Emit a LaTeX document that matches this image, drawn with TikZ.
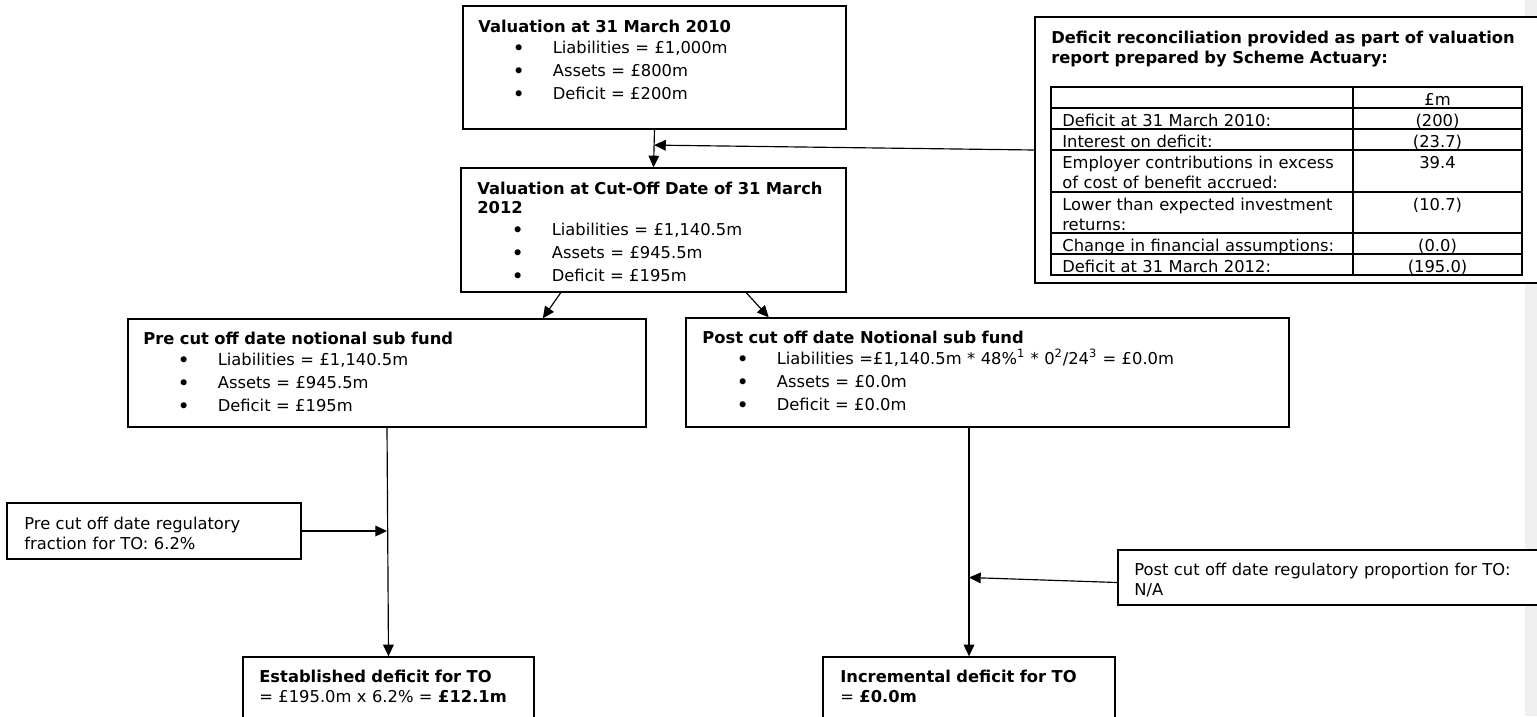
\documentclass[tikz,border=0pt]{standalone}
\usepackage{fontspec}
\setmainfont{DejaVu Sans}
\usetikzlibrary{calc,arrows.meta,fit}

\definecolor{pagegray}{RGB}{240,240,240}
\newcommand\bul{\makebox[44.7pt][l]{\hspace*{20.6pt}\raisebox{-1.2pt}{\fontsize{12.5pt}{12pt}\selectfont\textbullet}}}

\tikzset{
  box/.style={draw, line width=0.8pt, fill=white, inner sep=0pt},
  txt/.style={anchor=base west, inner sep=0pt, text width=11cm, align=left},
  arr/.style={-{Triangle[length=7pt,width=6.4pt]}, line width=0.7pt},
  tabline/.style={line width=1.2pt},
}

\begin{document}
\begin{tikzpicture}[x=0.6pt, y=-0.6pt, font=\fontsize{9.8pt}{12pt}\selectfont]
\useasboundingbox (0,0) rectangle (1537,716);
\clip (0,0) rectangle (1537,716);
\fill[pagegray] (1525,0) rectangle (1537,716);

% valuation boxes
\node[box, fit={(463,6) (846,129)}] (val10) {};
\node[txt] (val10 txt) at (478,32) {\textbf{Valuation at 31 March 2010}\\[0.6pt]
  \bul Liabilities = £1,000m\\[1.8pt]
  \bul Assets = £800m\\[1.8pt]
  \bul Deficit = £200m};

\node[box, fit={(461,168) (846,292)}] (val12) {};
\node[txt] (val12 txt) at (477,194) {\textbf{Valuation at Cut-Off Date of 31 March\\[-0.6pt]2012}\\[1.2pt]
  \bul Liabilities = £1,140.5m\\[1.8pt]
  \bul Assets = £945.5m\\[1.8pt]
  \bul Deficit = £195m};

% sub funds
\node[box, fit={(128,319) (646,427)}] (pre) {};
\node[txt] (pre txt) at (143,344) {\textbf{Pre cut off date notional sub fund}\\[0.6pt]
  \bul Liabilities = £1,140.5m\\[1.8pt]
  \bul Assets = £945.5m\\[1.8pt]
  \bul Deficit = £195m};

\node[box, fit={(686,318) (1289,427)}] (post) {};
\node[txt] (post txt) at (702,343) {\textbf{Post cut off date Notional sub fund}\\[0.6pt]
  \bul Liabilities =£1,140.5m * 48\%\textsuperscript{1} * 0\textsuperscript{2}/24\textsuperscript{3} = £0.0m\\[1.8pt]
  \bul Assets = £0.0m\\[1.8pt]
  \bul Deficit = £0.0m};

% regulatory fractions
\node[box, fit={(7,503) (301,559)}] (frac) {};
\node[txt] (frac txt) at (24,529) {Pre cut off date regulatory\\fraction for TO: 6.2\%};

\node[box, fit={(1118,550) (1545,605)}] (na) {};
\node[txt] (na txt) at (1134,575) {Post cut off date regulatory proportion for TO:\\N/A};

% results
\node[box, fit={(243,657) (534,725)}] (estab) {};
\node[txt] (estab txt) at (259,682) {\textbf{Established deficit for TO}\\= £195.0m x 6.2\% = \textbf{£12.1m}};

\node[box, fit={(823,657) (1115,725)}] (incr) {};
\node[txt] (incr txt) at (840,682) {\textbf{Incremental deficit for TO}\\= \textbf{£0.0m}};

% reconciliation table
\node[box, fit={(1035,17) (1545,283)}] (recon) {};
\node[txt] (recon txt) at (1051,43) {\textbf{Deficit reconciliation provided as part of valuation\\report prepared by Scheme Actuary:}};
\node[draw, tabline, inner sep=0pt, fit={(1051,87) (1522,275)}] (recon tab) {};
\draw[tabline] (1353,87) -- (1353,275);
\foreach \y in {108,129,150,192,233,254}
  \draw[tabline] (1051,\y) -- (1522,\y);
\foreach \t/\lab/\val [count=\i] in {
  87/{}/{£m},
  108/{Deficit at 31 March 2010:}/{(200)},
  129/{Interest on deficit:}/{(23.7)},
  150/{Employer contributions in excess\\of cost of benefit accrued:}/{39.4},
  192/{Lower than expected investment\\returns:}/{(10.7)},
  233/{Change in financial assumptions:}/{(0.0)},
  254/{Deficit at 31 March 2012:}/{(195.0)}}
{
  \node[txt] (row\i lab) at (1062,\t+18) {\lab};
  \node[anchor=base, inner sep=0pt] (row\i val) at (1437.5,\t+18) {\val};
}

% connectors
\coordinate (join1) at ($(val10.south)!0.41!(val12.north)$);
\draw[arr] (val10.south) -- (val12.north);
\draw[arr] (recon.west) -- (join1);
\draw[arr] ($(val12.south west)!0.26!(val12.south east)$) -- ($(pre.north west)!0.8!(pre.north east)$);
\draw[arr] ($(val12.south west)!0.74!(val12.south east)$) -- ($(post.north west)!0.138!(post.north east)$);
\draw[arr] (pre.south) -- (estab.north);
\draw[arr] (frac.east) -- (frac.east -| pre.south);
\draw[arr] (post.south -| incr.north) -- (incr.north);
\draw[arr] ($(na.west)+(0,5)$) -- (na.west -| incr.north);

\end{tikzpicture}
\end{document}
